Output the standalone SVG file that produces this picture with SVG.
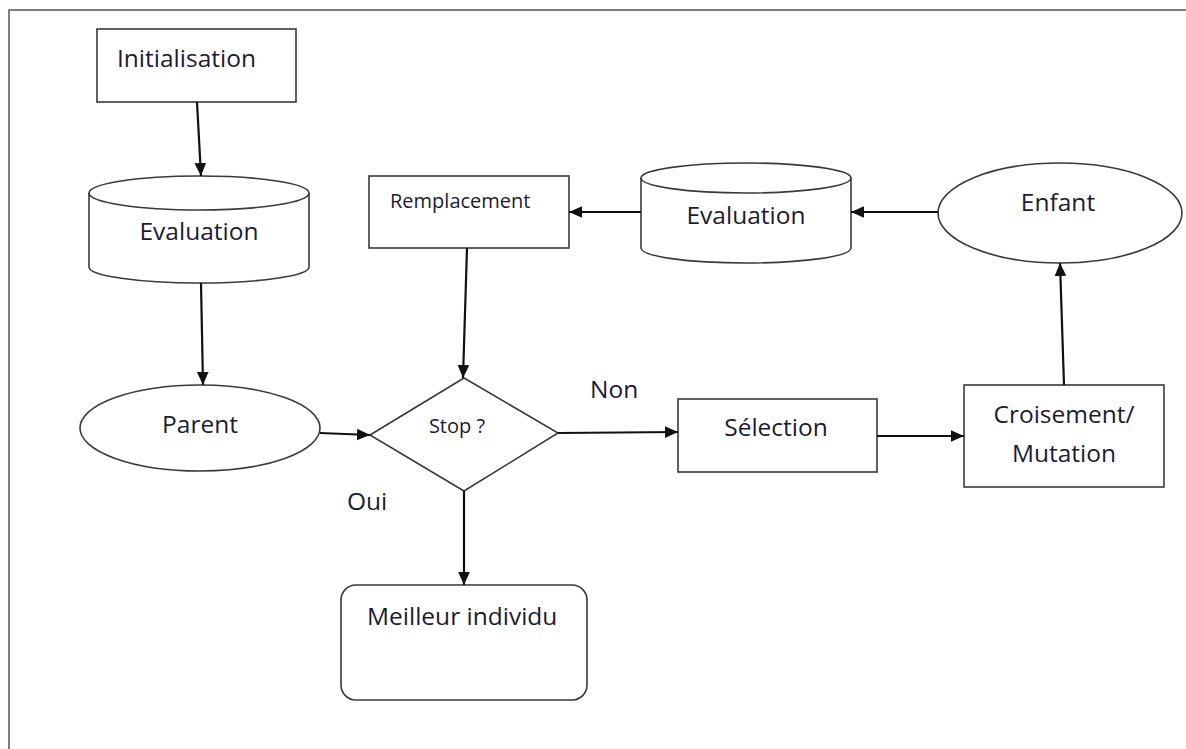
<svg xmlns="http://www.w3.org/2000/svg" width="1186" height="749" viewBox="0 0 1186 749">
<style>
.shape{fill:#fff;stroke:#3a3a3a;stroke-width:1.6}
.t{font-family:"Open Sans","Liberation Sans",sans-serif;font-size:24.5px;fill:#1c1c30}
.s{font-size:20px}
.c{text-anchor:middle}
.edge{stroke:#111;stroke-width:2.2;fill:none;marker-end:url(#ah)}
</style>
<defs>
<marker id="ah" viewBox="0 0 10 10" refX="10" refY="5" markerWidth="13" markerHeight="13" markerUnits="userSpaceOnUse" orient="auto">
<path d="M0,0.5 L10,5 L0,9.5 z" fill="#111"/>
</marker>
</defs>
<rect width="1186" height="749" fill="#fff"/>
<path d="M9,749 V10 H1186" fill="none" stroke="#555" stroke-width="1.5"/>

<g id="initialisation">
<rect class="shape" x="97" y="29" width="199" height="73"/>
<text class="t" x="117" y="67">Initialisation</text>
</g>

<g id="evaluation1">
<path class="shape" d="M89,193 V267 A110,16 0 0 0 309,267 V193"/>
<ellipse class="shape" cx="199" cy="193" rx="110" ry="17"/>
<text class="t c" x="199" y="240">Evaluation</text>
</g>

<g id="parent">
<ellipse class="shape" cx="200" cy="428" rx="120" ry="43"/>
<text class="t c" x="200" y="433">Parent</text>
</g>

<g id="stop">
<polygon class="shape" points="370,435 464,378 558,433 464,491"/>
<text class="t s c" x="457" y="433">Stop ?</text>
</g>

<g id="remplacement">
<rect class="shape" x="369" y="176" width="200" height="72"/>
<text class="t s" x="390" y="208">Remplacement</text>
</g>

<g id="evaluation2">
<path class="shape" d="M641,178 V248 A105,15 0 0 0 851,248 V178"/>
<ellipse class="shape" cx="746" cy="178" rx="105" ry="15"/>
<text class="t c" x="746" y="224">Evaluation</text>
</g>

<g id="enfant">
<ellipse class="shape" cx="1060" cy="213" rx="122" ry="50"/>
<text class="t c" x="1058" y="211">Enfant</text>
</g>

<g id="selection">
<rect class="shape" x="678" y="399" width="199" height="73"/>
<text class="t c" x="776" y="436">Sélection</text>
</g>

<g id="croisement">
<rect class="shape" x="964" y="385" width="200" height="102"/>
<text class="t c" x="1064" y="423">Croisement/</text>
<text class="t c" x="1064" y="462">Mutation</text>
</g>

<g id="meilleur">
<rect class="shape" x="341" y="585" width="246" height="115" rx="15"/>
<text class="t" x="367" y="625">Meilleur individu</text>
</g>

<g id="labels">
<text class="t" x="590" y="398">Non</text>
<text class="t" x="347" y="510">Oui</text>
</g>

<g id="connectors">
<path class="edge" d="M197,102 L201,176"/>
<path class="edge" d="M201,283 L203,385"/>
<path class="edge" d="M320,433 L370,435"/>
<path class="edge" d="M467,248 L463,378"/>
<path class="edge" d="M641,212 L569,212"/>
<path class="edge" d="M938,212 L851,212"/>
<path class="edge" d="M1064,385 L1060,263"/>
<path class="edge" d="M877,436 L964,436"/>
<path class="edge" d="M558,433 L678,432"/>
<path class="edge" d="M464,491 L464,585"/>
</g>
</svg>
